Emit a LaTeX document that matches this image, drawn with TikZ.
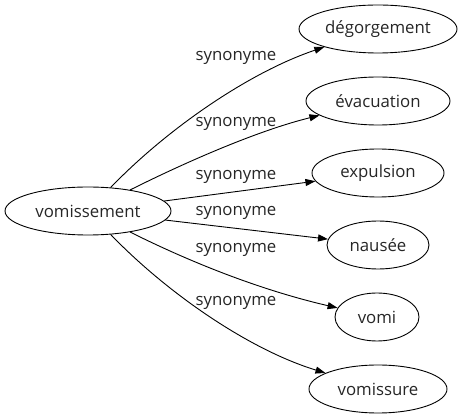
\documentclass[tikz,border=0pt]{standalone}
\usepackage{fontspec}
\setmainfont{Open Sans}
\usetikzlibrary{arrows.meta,shapes.geometric}

\begin{document}
\begin{tikzpicture}[
  x=1pt, y=-1pt,
  font=\fontsize{16.8}{19}\selectfont,
  word/.style={draw, ellipse, inner sep=0pt, minimum height=48pt, text=black!85, line width=0.9pt},
  lbl/.style={inner sep=0pt, text=black!85},
  link/.style={-{Triangle[length=10pt, width=7pt]}, line width=0.9pt}
]
\useasboundingbox (0,0) rectangle (466,419);

\node[word, minimum width=166pt] (vomissement) at (88,211) {vomissement};

\node[word, minimum width=158pt] (degorgement) at (378,29) {dégorgement};
\node[word, minimum width=144pt] (evacuation) at (378,101) {évacuation};
\node[word, minimum width=132pt] (expulsion) at (378,173) {expulsion};
\node[word, minimum width=102pt] (nausee) at (378,245) {nausée};
\node[word, minimum width=84pt] (vomi) at (377,317) {vomi};
\node[word, minimum width=138pt] (vomissure) at (378,389) {vomissure};

\draw[link] (vomissement) .. controls (168,128) and (250,72) .. (degorgement);
\draw[link] (vomissement) .. controls (190,160) and (260,130) .. (evacuation);
\draw[link] (vomissement) -- (expulsion);
\draw[link] (vomissement) -- (nausee);
\draw[link] (vomissement) .. controls (190,262) and (260,290) .. (vomi);
\draw[link] (vomissement) .. controls (168,294) and (250,350) .. (vomissure);

\node[lbl] (s1) at (236,58) {synonyme};
\node[lbl] (s2) at (236,124) {synonyme};
\node[lbl] (s3) at (236,177) {synonyme};
\node[lbl] (s4) at (236,213) {synonyme};
\node[lbl] (s5) at (236,250) {synonyme};
\node[lbl] (s6) at (236,303) {synonyme};

\end{tikzpicture}
\end{document}
